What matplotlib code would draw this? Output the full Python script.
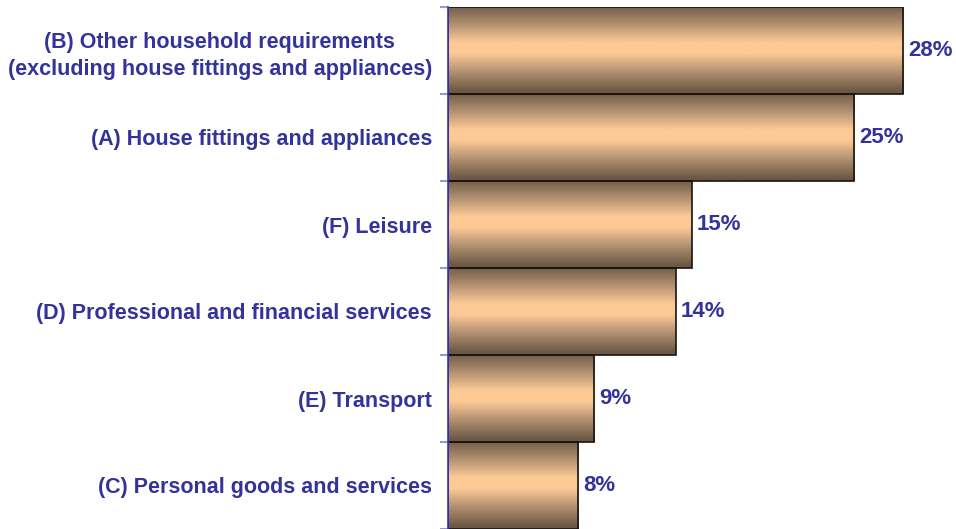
import numpy as np
import matplotlib.pyplot as plt
from matplotlib.colors import LinearSegmentedColormap

categories = [
    "(B) Other household requirements\n(excluding house fittings and appliances)",
    "(A) House fittings and appliances",
    "(F) Leisure",
    "(D) Professional and financial services",
    "(E) Transport",
    "(C) Personal goods and services",
]
values = [28, 25, 15, 14, 9, 8]

text_color = "#333399"
plt.rcParams['font.family'] = ['Liberation Sans', 'DejaVu Sans']

fig = plt.figure(figsize=(9.56, 5.29), dpi=100)
ax = fig.add_axes([448 / 956, 0, 1 - 448 / 956, 1 - 7 / 529])

n = len(values)

# vertical gradient: dark brown at bar edges, peach in the middle
cmap = LinearSegmentedColormap.from_list("bar", ["#6c5844", "#b08f70", "#fdca96"])
t = np.linspace(0, 1, 300)
prof = np.clip((1 - np.abs(2 * (t - 0.47)) ) / 0.88, 0, 1)
grad = prof.reshape(-1, 1)

for i, v in enumerate(values):
    ax.imshow(grad, cmap=cmap, aspect='auto', extent=[0, v, i + 1, i],
              interpolation='bilinear', zorder=1, vmin=0, vmax=1)
    ax.add_patch(plt.Rectangle((0, i), v, 1, fill=False, edgecolor='#1a1410',
                               linewidth=1.2, zorder=2))
    ax.text(v + 0.3, i + 0.5, f"{v}%", va='center', ha='left', fontsize=16,
            fontweight='bold', color=text_color)

ax.set_xlim(0, 31.26)
ax.set_ylim(n, 0)

ax.set_yticks(np.arange(n + 1))
ax.set_yticklabels([])
ax.set_yticks(np.arange(n) + 0.5, minor=True)
ax.set_yticklabels(categories, minor=True, fontsize=15.5, fontweight='bold',
                   color=text_color, multialignment='center', linespacing=1.4)
ax.tick_params(axis='y', which='minor', length=0, pad=11.5)
ax.tick_params(axis='y', which='major', length=6, color='#9999cc', width=1.5)
ax.set_xticks([])

for s in ['top', 'right', 'bottom']:
    ax.spines[s].set_visible(False)
ax.spines['left'].set_color('#3333cc')
ax.spines['left'].set_linewidth(1.2)
ax.spines['left'].set_zorder(3)

fig.savefig("out.png", dpi=100)
